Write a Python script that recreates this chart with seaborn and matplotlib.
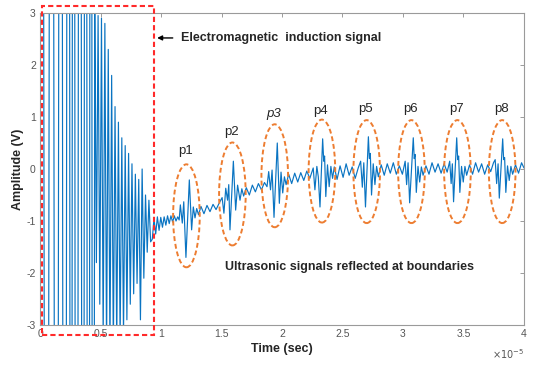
# -*- coding:UTF-8 -*-

import pandas as pd
import seaborn as sns
from matplotlib import pyplot as plt
from matplotlib.patches import Ellipse, Rectangle

# time in units of 1e-5 s, amplitude in V
# EM induction burst: extrema of the clipped / dense oscillation
burst_t = [0.000, 0.012, 0.053, 0.095, 0.136, 0.170, 0.203, 0.236, 0.256,
           0.276, 0.301, 0.330, 0.355, 0.376, 0.400, 0.421, 0.438,
           0.452, 0.466, 0.480, 0.494, 0.508, 0.522, 0.536, 0.550, 0.564,
           0.578, 0.592, 0.606, 0.620, 0.634, 0.648, 0.662, 0.676, 0.690,
           0.704, 0.718, 0.732, 0.746, 0.760, 0.774, 0.788, 0.802, 0.816,
           0.830, 0.844, 0.858, 0.872, 0.886, 0.900, 0.914]
burst_v = [0.0, 30, -30, 30, -30, 30, -30, 30, -30,
           30, -30, 30, -30, 30, -30, 30, -30,
           3.5, -1.8, 2.95, -2.6, 2.9, -3.3, 2.8, -3.5, 2.3,
           -3.5, 1.8, -3.5, 1.2, -3.4, 0.9, -3.3, 0.6, -3.2,
           0.45, -2.9, 0.3, -2.6, 0.1, -2.4, -0.1, -2.2, -0.2,
           -2.9, 0.0, -2.1, -0.5, -1.6, -0.6, -1.4]

# ultrasonic part: ripple + echoes p1..p8
echo_t = [
    # ripple after the burst
    0.928, 0.942, 0.956, 0.970, 0.984, 0.998, 1.012, 1.026, 1.040, 1.054,
    1.068, 1.082, 1.096, 1.110, 1.124, 1.138,
    # p1
    1.150, 1.160, 1.176, 1.188, 1.206, 1.234, 1.253, 1.267, 1.281, 1.295,
    1.310,
    1.330, 1.355, 1.380, 1.405, 1.430, 1.455, 1.480,
    # p2
    1.505, 1.520, 1.535, 1.550, 1.560, 1.570, 1.598, 1.617, 1.633, 1.653,
    1.668, 1.683,
    1.705, 1.730, 1.755, 1.780, 1.805, 1.830, 1.855, 1.876,
    # p3
    1.890, 1.905, 1.918, 1.934, 1.961, 1.978, 1.992, 2.006, 2.020, 2.034,
    2.055, 2.080, 2.105, 2.130, 2.155, 2.180, 2.205, 2.230,
    # p4
    2.258, 2.272, 2.288, 2.300, 2.314, 2.336, 2.345, 2.352, 2.362, 2.376,
    2.390, 2.404, 2.418, 2.432,
    2.455, 2.480, 2.505, 2.530, 2.555, 2.580, 2.605, 2.630,
    # p5
    2.650, 2.664, 2.676, 2.690, 2.714, 2.722, 2.730, 2.740, 2.754, 2.768,
    2.782, 2.796,
    2.820, 2.845, 2.870, 2.895, 2.920, 2.945, 2.970, 2.995,
    # p6
    3.018, 3.030, 3.042, 3.055, 3.085, 3.093, 3.100, 3.110, 3.124, 3.138,
    3.152, 3.166,
    3.190, 3.215, 3.240, 3.265, 3.290, 3.315, 3.340, 3.365,
    # p7
    3.386, 3.398, 3.408, 3.418, 3.444, 3.452, 3.460, 3.470, 3.484, 3.498,
    3.512, 3.526,
    3.550, 3.575, 3.600, 3.625, 3.650, 3.675, 3.700, 3.725, 3.748,
    # p8
    3.762, 3.774, 3.786, 3.796, 3.824, 3.832, 3.840, 3.850, 3.864, 3.878,
    3.892, 3.906,
    3.930, 3.955, 3.980, 4.000]
echo_v = [
    -1.35, -0.95, -1.25, -0.92, -1.18, -0.93, -1.12, -0.92, -1.08, -0.90,
    -1.05, -0.90, -1.02, -0.90, -1.00, -0.92,
    -0.98, -0.69, -1.04, -0.63, -1.70, -0.21, -1.17, -0.73, -0.94, -0.76,
    -0.88,
    -0.72, -0.86, -0.70, -0.82, -0.68, -0.78, -0.66,
    -0.55, -0.85, -0.37, -0.60, -0.30, -1.17, 0.15, -0.79, -0.31, -0.60,
    -0.38, -0.52,
    -0.36, -0.50, -0.31, -0.44, -0.28, -0.40, -0.26, -0.34,
    -0.05, -0.40, -0.02, -0.93, 0.50, -0.66, -0.06, -0.46, -0.15, -0.30,
    -0.10, -0.28, -0.08, -0.25, -0.07, -0.22, -0.04, -0.18,
    0.02, -0.40, 0.05, -0.15, -0.73, 0.58, 0.15, 0.25, -0.53, 0.08,
    -0.34, 0.05, -0.18, 0.04,
    -0.20, 0.06, -0.16, 0.10, -0.12, 0.04, -0.18, 0.02,
    0.15, -0.35, 0.12, -0.73, 0.62, 0.20, 0.30, -0.50, 0.10, -0.30,
    0.05, -0.15,
    0.08, -0.12, 0.10, -0.08, 0.12, -0.10, 0.06, -0.10,
    0.15, -0.30, 0.12, -0.65, 0.60, 0.20, 0.28, -0.45, 0.05, -0.25,
    0.04, -0.12,
    0.06, -0.10, 0.12, -0.06, 0.10, -0.08, 0.10, -0.06,
    0.15, -0.28, 0.10, -0.63, 0.60, 0.18, 0.25, -0.45, 0.05, -0.25,
    0.05, -0.12,
    0.08, -0.10, 0.12, -0.06, 0.10, -0.10, 0.08, -0.05, 0.12,
    0.18, -0.28, 0.10, -0.56, 0.58, 0.18, 0.22, -0.45, 0.06, -0.22,
    0.05, -0.10,
    0.08, -0.08, 0.12, 0.02]

# echo markers
peak_names = ['p1', 'p2', 'p3', 'p4', 'p5', 'p6', 'p7', 'p8']
peak_cx = [1.21, 1.59, 1.94, 2.33, 2.70, 3.07, 3.45, 3.82]
peak_cy = [-0.90, -0.48, -0.13, -0.04, -0.05, -0.05, -0.05, -0.05]
label_y = [0.35, 0.71, 1.06, 1.12, 1.15, 1.15, 1.15, 1.15]

xticks = [0, 0.5, 1, 1.5, 2, 2.5, 3, 3.5, 4]
xticklabels = ['0', '0.5', '1', '1.5', '2', '2.5', '3', '3.5', '4']
yticks = [-3, -2, -1, 0, 1, 2, 3]
yticklabels = ['-3', '-2', '-1', '0', '1', '2', '3']

sns.set_theme(style="white")
plt.rcParams['font.family'] = ['Liberation Sans', 'DejaVu Sans']

df = pd.DataFrame({'t': burst_t + echo_t, 'v': burst_v + echo_v})

fig = plt.figure(figsize=(5.35, 3.68), dpi=100)
ax = fig.add_axes([0.0748, 0.1168, 0.9046, 0.8479])

sns.lineplot(data=df, x='t', y='v', ax=ax, color='#0A74C2', linewidth=0.85,
             estimator=None, sort=False)

ax.set_xlim(0, 4)
ax.set_ylim(-3, 3)
ax.set_xticks(xticks)
ax.set_xticklabels(xticklabels)
ax.set_yticks(yticks)
ax.set_yticklabels(yticklabels)
ax.tick_params(direction='in', top=True, right=True, length=3, width=0.6,
               color='#8c8c8c', labelcolor='#555555', labelsize=7.5, pad=3)
for s in ax.spines.values():
    s.set_color('#9a9a9a')
    s.set_linewidth(0.8)

ax.set_xlabel('Time (sec)', fontsize=9, fontweight='bold', labelpad=3)
ax.set_ylabel('Amplitude (V)', fontsize=9, fontweight='bold', labelpad=2)
ax.text(1.0, -0.07, r'$\times10^{-5}$', transform=ax.transAxes,
        ha='right', va='top', fontsize=7, color='#555555')

# red dashed box round the EM burst
ax.add_patch(Rectangle((0.017, -3.19), 0.925, 6.32, fill=False,
                       ls=(0, (2.5, 1.5)), ec='#FF2A2A', lw=1.5,
                       clip_on=False, zorder=5))

for name, cx, cy, ly in zip(peak_names, peak_cx, peak_cy, label_y):
    ax.add_patch(Ellipse((cx, cy), 0.22, 1.98, fill=False,
                         ls=(0, (2.5, 1.5)), ec='#ED7D31', lw=1.4, zorder=4))
    ax.text(cx - 0.01, ly, name, ha='center', va='center', fontsize=9.5,
            style='italic' if name == 'p3' else 'normal')

ax.annotate('', xy=(0.945, 2.52), xytext=(1.12, 2.52),
            arrowprops=dict(arrowstyle='-|>', color='black', lw=1.0,
                            mutation_scale=7))
ax.text(1.165, 2.52, 'Electromagnetic  induction signal', ha='left',
        va='center', fontsize=9, fontweight='bold')
ax.text(1.53, -1.89, 'Ultrasonic signals reflected at boundaries',
        ha='left', va='center', fontsize=9, fontweight='bold')

plt.savefig('out.png', dpi=100, facecolor='white')
